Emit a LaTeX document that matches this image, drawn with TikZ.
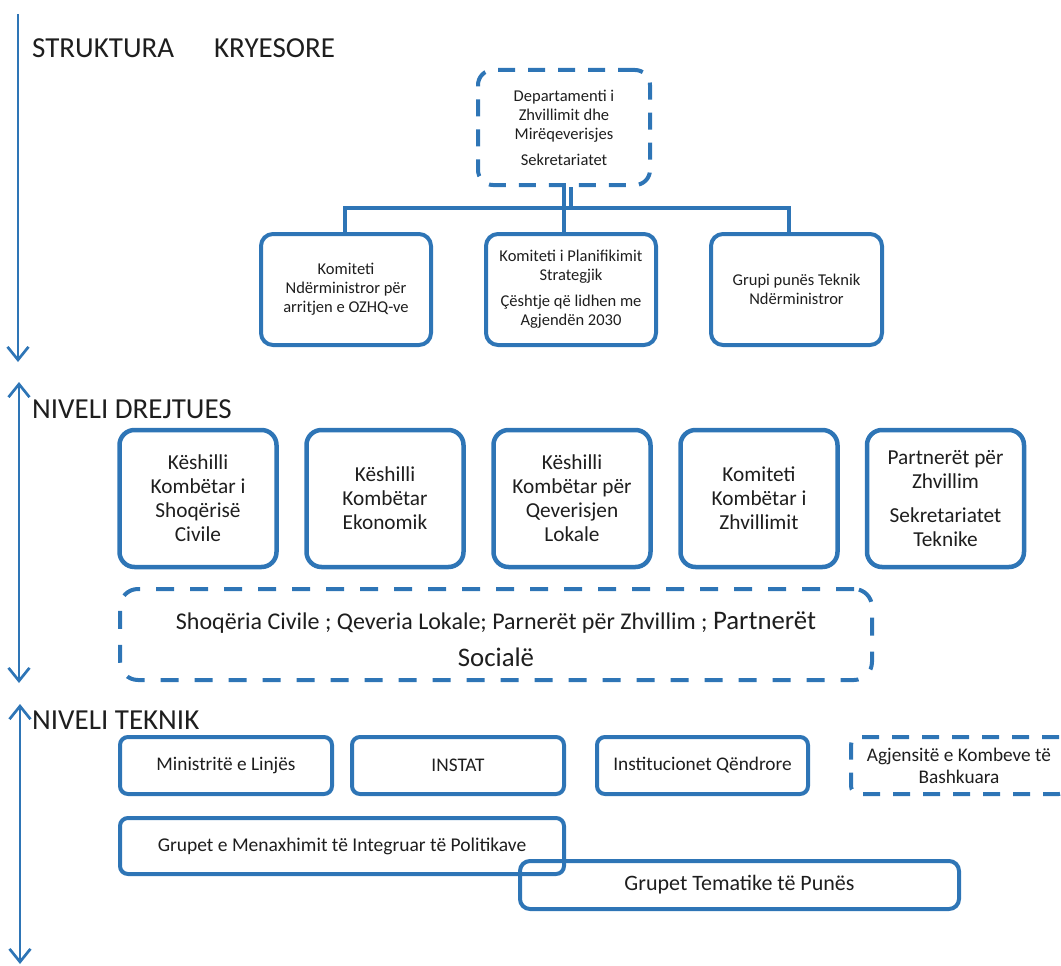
\documentclass[tikz,border=0pt]{standalone}
\usepackage{fontspec}
\setmainfont{Carlito}
\usetikzlibrary{arrows.meta}
\definecolor{bl}{RGB}{46,117,182}
\definecolor{tx}{RGB}{30,30,30}
\tikzset{lvtip/.tip={Straight Barb[length=13pt,width=21pt,line width=2.7pt]}}
\begin{document}
\begin{tikzpicture}[x=1pt,y=-1pt,
  every node/.style={inner sep=0pt, text=tx, align=center},
  heading/.style={anchor=base west, font=\fontsize{29}{32}\selectfont},
  levelarrow/.style={draw=bl, line width=2.7pt},
  boxA/.style={draw=bl, line width=4pt, rounded corners=12pt, font=\fontsize{16.5}{19}\selectfont},
  dashA/.style={draw=bl, line width=4pt, rounded corners=15pt, dash pattern=on 17pt off 13pt, font=\fontsize{16.5}{19}\selectfont},
  boxB/.style={draw=bl, line width=4.5pt, rounded corners=15pt, minimum width=157pt, minimum height=137pt, font=\fontsize{21.3}{24}\selectfont},
  dashB/.style={draw=bl, line width=4pt, rounded corners=18pt, dash pattern=on 18pt off 16pt},
  boxC/.style={draw=bl, line width=4pt, rounded corners=8pt, font=\fontsize{19.3}{22}\selectfont},
  dashC/.style={draw=bl, line width=4pt, rounded corners=8pt, dash pattern=on 17pt off 13pt, font=\fontsize{19.3}{22}\selectfont},
  link/.style={draw=bl, line width=4pt}
]
\useasboundingbox (0,0) rectangle (1061,966);

% level arrows
\coordinate (a1s) at (18,14);   \coordinate (a1e) at (18,362);
\coordinate (a2s) at (19,382);  \coordinate (a2e) at (19,683);
\coordinate (a3s) at (20,704);  \coordinate (a3e) at (20,964);
\draw[levelarrow, -{lvtip}] (a1s) -- (a1e);
\draw[levelarrow, {lvtip}-{lvtip}] (a2s) -- (a2e);
\draw[levelarrow, {lvtip}-{lvtip}] (a3s) -- (a3e);

% headings
\node[heading] (h1) at (32,58) {STRUKTURA\hspace{40pt}KRYESORE};
\node[heading] (h2) at (32,418) {NIVELI DREJTUES};
\node[heading] (h3) at (32,729) {NIVELI TEKNIK};

% top structure
\node[dashA, minimum width=172pt, minimum height=115pt] (top) at (564,127.5)
  {Departamenti i\\Zhvillimit dhe\\Mirëqeverisjes\\[7pt]Sekretariatet};
\node[boxA, minimum width=170pt, minimum height=111pt] (k1) at (346,289.5)
  {Komiteti\\Ndërministror për\\arritjen e OZHQ-ve};
\node[boxA, minimum width=170pt, minimum height=111pt] (k2) at (571,289.5)
  {Komiteti i Planifikimit\\Strategjik\\[7pt]Çështje që lidhen me\\Agjendën 2030};
\node[boxA, minimum width=171pt, minimum height=111pt] (k3) at (796.5,289.5)
  {Grupi punës Teknik\\Ndërministror};

\coordinate (hub) at (564,208);
\draw[link] (top.south) -- (top.south |- k2.north);
\draw[link] ([xshift=7pt]top.south) -- ([xshift=7pt]top.south |- hub);
\draw[link] ([xshift=-1pt]k1.north) |- (hub) -| ([xshift=-7.5pt]k3.north);

% niveli drejtues
\node[boxB] (d1) at (198,498.5) {Këshilli\\Kombëtar i\\Shoqërisë\\Civile};
\node[boxB] (d2) at (385,498.5) {Këshilli\\Kombëtar\\Ekonomik};
\node[boxB] (d3) at (572,498.5) {Këshilli\\Kombëtar për\\Qeverisjen\\Lokale};
\node[boxB] (d4) at (759,498.5) {Komiteti\\Kombëtar i\\Zhvillimit};
\node[boxB] (d5) at (945.5,498.5) {Partnerët për\\Zhvillim\\[10pt]Sekretariatet\\Teknike};

\node[dashB, minimum width=752pt, minimum height=91pt, font=\fontsize{26.8}{37}\selectfont] (soc) at (496,634.5)
  {\rule{0pt}{27pt}{\fontsize{24}{26}\selectfont Shoqëria Civile ; Qeveria Lokale; Parnerët për Zhvillim ; }Partnerët\\Socialë};

% niveli teknik
\node[boxC, minimum width=212pt, minimum height=57pt] (t1) at (226,765.5) {Ministritë e Linjës};
\node[boxC, minimum width=212pt, minimum height=57pt] (t2) at (458,765.5) {INSTAT};
\node[boxC, minimum width=211pt, minimum height=57pt] (t3) at (702.5,765.5) {Institucionet Qëndrore};
\node[dashC, minimum width=216pt, minimum height=57pt] (t4) at (959,765.5) {Agjensitë e Kombeve të\\Bashkuara};

\node[boxC, minimum width=444pt, minimum height=56pt, font=\fontsize{19.5}{22}\selectfont] (g1) at (342,846)
  {Grupet e Menaxhimit të Integruar të Politikave};
\node[boxC, minimum width=439pt, minimum height=48pt, rounded corners=10pt, font=\fontsize{22}{25}\selectfont] (g2) at (739.5,885)
  {\raisebox{-3pt}{Grupet Tematike të Punës}};
\end{tikzpicture}
\end{document}
